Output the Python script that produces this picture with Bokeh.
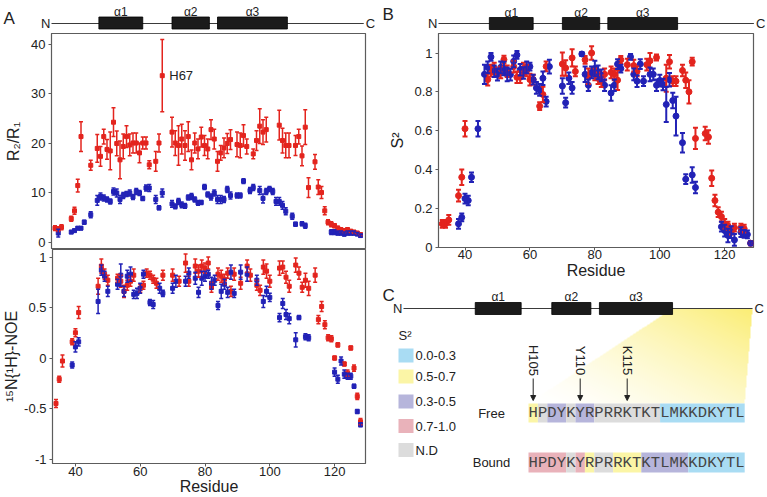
import numpy as np
from bokeh.plotting import figure
from bokeh.layouts import row, column
from bokeh.models import (Range1d, FixedTicker, Whisker, TeeHead,
                          ColumnDataSource, Arrow, NormalHead)
from bokeh.embed import file_html
from bokeh.resources import INLINE
from bokeh.core.properties import value

SANS = "Liberation Sans"
MONO = "Liberation Mono"
RED = "#e3241e"     # bound
BLUE = "#2222b6"    # free
INK = "#222222"
EDGE = "#5c5c5c"

# ---------------------------------------------------------------- data
HELICES = ["α1", "α2", "α3"]
HELIX_START = [47.5, 70.0, 84.0]
HELIX_END = [61.0, 81.5, 105.5]
C_TERMINUS = 129

# R2/R1
BOUND_R2R1_RES = [34, 35, 36, 39, 40, 41, 42, 45,
                  47, 48, 49, 50, 51, 52, 53, 54, 55, 56, 57, 58, 59, 60, 61, 62, 63,
                  65, 66, 67,
                  70, 71, 72, 73, 74, 75, 76, 77, 78, 79, 80, 81, 82, 83, 84, 85, 86, 87, 88,
                  90, 91, 92, 93,
                  95, 96, 97, 98, 99,
                  103, 104, 105, 106,
                  108, 109, 110, 111, 112,
                  114, 115, 116, 117, 118, 119, 120, 121, 122, 123, 124, 125, 126, 127, 128]
BOUND_R2R1 = [2.8, 2.6, 3.0, 4.7, 6.3, 11.4, 21.3, 15.5,
              18.9, 17.3, 21.3, 18.7, 18.4, 24.2, 19.9, 16.6, 19.3, 21.3, 19.6, 20.0, 20.0, 18.0, 20.0, 20.0, 15.6,
              16.3, 20.0, 33.6,
              22.2, 20.0, 19.5, 20.8, 19.5, 21.3, 16.6, 20.0, 18.8, 21.2, 19.5, 18.8, 22.7, 20.8, 16.3, 18.0, 19.0, 19.9, 20.7,
              19.7, 19.5, 21.5, 19.3,
              17.8, 20.5, 23.4, 22.2, 22.7,
              23.6, 20.5, 19.5, 19.5,
              19.5, 21.3, 17.4, 23.2, 11.0,
              16.2, 11.1, 10.0, 6.3, 4.0, 3.6, 3.3, 2.8, 2.5, 2.3, 2.5, 2.2, 2.0, 1.8, 1.5]
BOUND_R2R1_ERR = [0.5, 0.5, 0.5, 0.5, 0.7, 1.3, 3.0, 1.0,
                  2.8, 2.0, 1.5, 2.0, 3.8, 2.9, 2.5, 3.8, 2.5, 2.2, 2.2, 2.0, 2.0, 2.0, 1.2, 1.2, 0.8,
                  2.0, 1.8, 7.3,
                  3.0, 2.5, 4.0, 3.0, 3.0, 3.0, 2.0, 2.0, 2.0, 2.0, 2.0, 2.0, 2.0, 2.0, 2.0, 1.5, 2.0, 2.0, 2.0,
                  2.5, 2.5, 2.2, 1.5,
                  1.0, 2.0, 3.5, 2.5, 2.5,
                  3.0, 2.5, 2.5, 2.5,
                  2.0, 1.5, 2.0, 3.5, 2.0,
                  1.5, 1.5, 1.2, 0.8, 0.5, 0.5, 0.4, 0.4, 0.4, 0.4, 0.4, 0.3, 0.3, 0.3, 0.3]

FREE_R2R1_RES = [35, 39, 40, 41, 42, 43, 45,
                 47, 48, 49, 50, 51, 52, 53, 54, 55, 56, 57, 58, 59, 60, 61, 62, 63,
                 65, 66, 67,
                 70, 71, 72, 73, 74, 75, 76, 77, 78, 79, 80, 81, 82, 83, 84, 85, 86, 87, 88,
                 90, 91, 92, 94, 95,
                 97, 98, 99, 100, 101, 102, 103, 104, 105,
                 107, 108, 110, 111,
                 119, 120, 121, 122, 123, 124, 125, 126, 127, 128]
FREE_R2R1 = [1.8, 2.0, 2.3, 2.8, 2.8, 4.0, 5.5,
             8.4, 9.2, 8.9, 8.6, 8.2, 10.2, 9.9, 8.6, 9.4, 9.7, 9.9, 9.1, 10.2, 9.9, 8.8, 10.9, 10.9,
             8.6, 6.9, 9.9,
             7.7, 7.2, 8.2, 7.5, 7.3, 9.0, 9.2, 8.6, 7.9, 8.0, 11.1, 9.6, 9.1, 9.9, 8.6, 8.6, 8.6, 10.6, 9.4,
             9.4, 9.4, 12.3, 10.4, 11.0,
             10.4, 8.8, 10.2, 10.7, 10.2, 8.2, 8.2, 7.4, 6.2,
             5.2, 3.6, 3.7, 3.3,
             2.0, 2.0, 1.8, 1.8, 1.6, 1.8, 1.8, 1.8, 1.6, 1.3]
FREE_R2R1_ERR = [0.8, 0.3, 0.3, 0.3, 0.3, 0.4, 0.6,
                 1.0, 0.7, 0.6, 0.5, 0.5, 0.7, 0.8, 0.8, 0.6, 0.5, 0.6, 0.5, 0.6, 0.5, 0.4, 0.6, 0.7,
                 0.8, 0.4, 0.8,
                 0.7, 0.5, 0.6, 0.6, 0.5, 0.5, 0.6, 0.5, 0.5, 0.4, 0.5, 0.5, 0.6, 0.6, 0.8, 0.8, 0.6, 0.6, 0.7,
                 0.5, 0.5, 0.5, 0.6, 0.6,
                 0.8, 0.9, 0.6, 0.5, 0.6, 0.8, 0.8, 0.8, 0.7,
                 0.6, 0.4, 0.4, 0.5,
                 0.5, 0.5, 0.4, 0.4, 0.4, 0.4, 0.4, 0.4, 0.3, 0.3]

# heteronuclear NOE
BOUND_NOE_RES = [34, 35, 36, 39, 40, 41, 47, 48, 49, 50,
                 53, 54, 55, 56, 57, 58, 60, 61, 62, 63, 64, 65, 67, 70, 72, 74, 75,
                 77, 78, 79, 80, 81, 82, 84, 85, 86, 87, 88, 89, 91, 93, 94,
                 96, 97, 98, 99, 100, 103, 104, 105, 106, 108, 109, 110, 111, 112,
                 114, 115, 116, 117, 118, 119, 120, 121, 123, 124, 125, 126, 127, 128]
BOUND_NOE = [-0.45, -0.21, -0.03, 0.16, 0.25, 0.45, 0.71, 0.91, 0.83, 0.77,
             0.79, 0.76, 0.66, 0.72, 0.76, 0.82, 0.69, 0.72, 0.84, 0.82, 0.78, 0.74, 0.82, 0.82, 0.76, 0.94, 0.76,
             0.91, 0.86, 0.91, 0.89, 0.94, 0.70, 0.83, 0.81, 0.78, 0.84, 0.66, 0.83, 0.74, 0.91, 0.82,
             0.72, 0.67, 0.90, 0.86, 0.76, 0.89, 0.90, 0.80, 0.71, 0.92, 0.84, 0.70, 0.77, 0.69,
             0.82, 0.38, 0.51, 0.33, 0.20, 0.19, 0.00, 0.13, -0.06, -0.15, 0.10, -0.10, -0.38, -0.63]
BOUND_NOE_ERR = [0.04, 0.03, 0.06, 0.03, 0.04, 0.06, 0.08, 0.07, 0.05, 0.05,
                 0.04, 0.06, 0.06, 0.05, 0.05, 0.06, 0.04, 0.04, 0.04, 0.04, 0.04, 0.05, 0.05, 0.06, 0.05, 0.09, 0.05,
                 0.07, 0.06, 0.06, 0.05, 0.06, 0.05, 0.06, 0.06, 0.05, 0.05, 0.05, 0.06, 0.06, 0.06, 0.06,
                 0.05, 0.05, 0.07, 0.07, 0.06, 0.07, 0.06, 0.06, 0.06, 0.07, 0.06, 0.05, 0.07, 0.07,
                 0.07, 0.04, 0.05, 0.04, 0.03, 0.03, 0.02, 0.02, 0.02, 0.03, 0.02, 0.03, 0.03, 0.03]

FREE_NOE_RES = [39, 40, 41, 47, 48, 49, 50,
                53, 54, 55, 56, 57, 58, 59, 60, 61, 63, 64, 66, 67, 70, 71, 74, 75,
                77, 78, 79, 80, 81, 82, 83, 84, 85, 86, 87, 88, 89, 91, 93, 96,
                98, 99, 100, 103, 104, 105, 106, 108, 109, 111, 112,
                120, 121, 122, 123, 124, 125, 126, 127, 128]
FREE_NOE = [-0.07, 0.11, 0.16, 0.56, 0.87, 0.81, 0.66,
            0.73, 0.82, 0.66, 0.81, 0.83, 0.63, 0.64, 0.69, 0.83, 0.55, 0.53, 0.69, 0.64, 0.69, 0.76, 0.76, 0.84,
            0.79, 0.65, 0.79, 0.81, 0.83, 0.74, 0.77, 0.52, 0.66, 0.73, 0.65, 0.85, 0.64, 0.85, 0.83, 0.77,
            0.56, 0.66, 0.60, 0.40, 0.54, 0.43, 0.39, 0.18, 0.40, 0.21, 0.20,
            -0.14, -0.21, -0.03, -0.16, -0.18, -0.18, -0.28, -0.53, -0.66]
FREE_NOE_ERR = [0.03, 0.05, 0.04, 0.12, 0.05, 0.05, 0.05,
                0.05, 0.11, 0.05, 0.06, 0.07, 0.04, 0.05, 0.05, 0.04, 0.03, 0.04, 0.05, 0.03, 0.05, 0.06, 0.05, 0.05,
                0.06, 0.05, 0.07, 0.05, 0.04, 0.06, 0.05, 0.04, 0.07, 0.05, 0.05, 0.07, 0.04, 0.07, 0.07, 0.05,
                0.06, 0.05, 0.04, 0.04, 0.05, 0.05, 0.05, 0.07, 0.02, 0.03, 0.03,
                0.04, 0.04, 0.04, 0.04, 0.03, 0.03, 0.02, 0.02, 0.02]

# order parameter S2
BOUND_S2_RES = [33, 34, 35, 38, 39, 40, 47, 48, 49, 51, 52, 53,
                55, 56, 57, 58, 59, 60, 61, 63, 64, 65, 70, 71, 73, 74,
                77, 78, 79, 80, 81, 82, 83, 85, 86, 87, 88, 90, 92, 93, 96, 97, 99,
                102, 103, 104, 105, 107, 108, 109, 110, 111,
                114, 115, 116, 117, 118, 119, 120, 121, 122, 123, 125, 126, 128]
BOUND_S2 = [0.12, 0.12, 0.14, 0.265, 0.36, 0.61, 0.863, 0.909, 0.92, 0.90, 0.966, 0.906,
            0.93, 0.875, 0.875, 0.92, 0.91, 0.863, 0.863, 0.726, 0.786, 0.931, 0.943, 0.923, 0.975, 0.905,
            0.965, 0.88, 1.0, 0.89, 0.87, 0.855, 0.89, 0.90, 0.89, 0.86, 0.965, 0.94, 0.935, 0.905, 0.94, 0.96, 0.977,
            0.87, 0.955, 0.855, 0.855, 0.91, 0.86, 0.80, 0.955, 0.56,
            0.585, 0.567, 0.355, 0.24, 0.18, 0.157, 0.12, 0.11, 0.085, 0.10, 0.10, 0.095, 0.02]
BOUND_S2_ERR = [0.02, 0.02, 0.025, 0.03, 0.04, 0.04, 0.03, 0.03, 0.03, 0.03, 0.02, 0.03,
                0.03, 0.03, 0.03, 0.03, 0.03, 0.03, 0.025, 0.02, 0.04, 0.025, 0.06, 0.04, 0.045, 0.025,
                0.02, 0.04, 0.035, 0.03, 0.03, 0.03, 0.03, 0.03, 0.03, 0.05, 0.02, 0.03, 0.03, 0.025, 0.03, 0.04, 0.015,
                0.07, 0.035, 0.025, 0.025, 0.03, 0.04, 0.06, 0.02, 0.055,
                0.035, 0.035, 0.04, 0.03, 0.025, 0.025, 0.025, 0.02, 0.02, 0.02, 0.02, 0.02, 0.01]

FREE_S2_RES = [38, 39, 40, 41, 42, 44,
               46, 47, 48, 49, 50, 51, 52, 53, 54, 55, 56, 57, 58, 59, 60, 61, 62, 63, 64, 65, 66,
               70, 71, 72, 73, 76, 77, 78, 79, 80, 81, 82, 83, 85, 86, 87, 88,
               91, 92, 93, 94, 95, 97, 98, 99, 100, 101, 102, 103, 104, 105,
               107, 108, 110, 111, 119, 120, 121, 122, 123, 125, 126, 127, 128]
FREE_S2 = [0.12, 0.153, 0.25, 0.24, 0.36, 0.61,
           0.89, 0.926, 0.98, 0.906, 0.889, 0.926, 0.92, 0.89, 0.889, 0.957, 0.99, 0.914, 0.897, 0.926, 0.93,
           0.863, 0.82, 0.81, 0.87, 0.75, 0.93,
           0.83, 0.744, 0.87, 0.82, 0.995, 0.89, 0.834, 0.90, 0.92, 0.90, 0.885, 0.834, 0.794, 0.834, 0.943, 0.92,
           0.98, 0.89, 0.855, 0.943, 0.855, 0.89, 0.89, 0.834, 0.858, 0.838, 0.735, 0.862, 0.755, 0.675,
           0.538, 0.35, 0.372, 0.307, 0.105, 0.085, 0.06, 0.077, 0.037, 0.077, 0.068, 0.065, 0.02]
FREE_S2_ERR = [0.025, 0.02, 0.025, 0.025, 0.025, 0.04,
               0.05, 0.03, 0.02, 0.03, 0.03, 0.03, 0.035, 0.035, 0.03, 0.03, 0.02, 0.03, 0.03, 0.03, 0.02,
               0.025, 0.03, 0.03, 0.035, 0.025, 0.035,
               0.04, 0.025, 0.03, 0.03, 0.01, 0.04, 0.03, 0.03, 0.04, 0.035, 0.03, 0.03, 0.04, 0.03, 0.025, 0.02,
               0.015, 0.03, 0.03, 0.025, 0.025, 0.035, 0.03, 0.03, 0.03, 0.03, 0.09, 0.035, 0.04, 0.1,
               0.05, 0.025, 0.04, 0.03, 0.025, 0.03, 0.035, 0.03, 0.03, 0.025, 0.02, 0.02, 0.01]

LABELLED_RESIDUE = 67

# C-terminal tail, coloured by S2 class
SEQUENCE = "HPDYKYRPRRKTKTLMKKDKYTL"
SEQ_START = 105
MARKED = [105, 110, 115]
FREE_CLASS = (["0.5-0.7", "N.D", "0.3-0.5", "0.3-0.5", "N.D", "0.3-0.5", "0.3-0.5"]
              + ["N.D"] * 7 + ["0.0-0.3"] * 9)
BOUND_CLASS = (["0.7-1.0"] * 4 + ["N.D", "0.7-1.0", "0.5-0.7", "N.D", "N.D"]
               + ["0.5-0.7"] * 3 + ["0.3-0.5"] * 5 + ["0.0-0.3"] * 6)
S2_CLASSES = ["0.0-0.3", "0.5-0.7", "0.3-0.5", "0.7-1.0", "N.D"]
S2_COLORS = ["#a9dcf3", "#fbf5a6", "#b6b5db", "#e9b2ba", "#dcdcdc"]
CLASS_COLOR = dict(zip(S2_CLASSES, S2_COLORS))


# ---------------------------------------------------------------- geometry helpers
def lin(anchor_px, anchor_val, px_per_unit, downward=False):
    sign = -1.0 if downward else 1.0
    return lambda px: anchor_val + sign * (px - anchor_px) / px_per_unit


A_X = lin(74, 40, 3.25)
A_TOP_Y = lin(241.5, 0, 4.95, True)
A_BOT_Y = lin(357.5, 0, 101, True)
B_X = lin(464.5, 40, 3.246)
B_Y = lin(247.6, 0, 195, True)
C_SCALE = 3.402
C_X = lin(752, C_TERMINUS, C_SCALE)


def C_PX(res):
    return 752 + C_SCALE * (res - C_TERMINUS)


def canvas(w, h, xr, yr, **kw):
    p = figure(width=w, height=h, x_range=Range1d(*xr), y_range=Range1d(*yr),
               x_axis_location=None, y_axis_location=None, toolbar_location=None,
               output_backend="svg", min_border=0, outline_line_color=None,
               frame_align=False, **kw)
    p.grid.visible = False
    return p


def frame_plot(w, h, xr, yr, left, right, top, bottom, xaxis):
    p = figure(width=w, height=h, x_range=Range1d(*xr), y_range=Range1d(*yr),
               x_axis_location="below" if xaxis else None, y_axis_location="left",
               toolbar_location=None, output_backend="svg", frame_align=False,
               min_border_left=left, min_border_right=right,
               min_border_top=top, min_border_bottom=bottom)
    p.outline_line_color = EDGE
    p.outline_line_width = 1.2
    p.grid.visible = False
    for ax in p.axis:
        ax.axis_line_color = EDGE
        ax.major_tick_line_color = EDGE
        ax.minor_tick_line_color = None
        ax.major_tick_in = 0
        ax.major_tick_out = 3
        ax.major_label_standoff = 3
        ax.major_label_text_font = SANS
        ax.major_label_text_font_size = "13px"
        ax.major_label_text_color = INK
        ax.axis_label_text_font = SANS
        ax.axis_label_text_font_size = "16px"
        ax.axis_label_text_font_style = "normal"
        ax.axis_label_text_color = INK
    return p


def set_ticks(axis, ticks, labels):
    axis.ticker = FixedTicker(ticks=ticks)
    axis.major_label_overrides = {t: s for t, s in zip(ticks, labels)}


def series(p, res, val, err, color, marker, size, lw, head):
    assert len(res) == len(val) == len(err)
    src = ColumnDataSource(dict(x=res, y=val,
                                lo=[v - e for v, e in zip(val, err)],
                                hi=[v + e for v, e in zip(val, err)]))
    p.add_layout(Whisker(source=src, base="x", lower="lo", upper="hi",
                         line_color=color, line_width=lw, level="glyph",
                         upper_head=TeeHead(size=head, line_color=color, line_width=lw),
                         lower_head=TeeHead(size=head, line_color=color, line_width=lw)))
    p.scatter("x", "y", source=src, marker=marker, size=size,
              fill_color=color, line_color=color)


def text_kw(size, align="center", baseline="middle", font=SANS, color=INK):
    return dict(text_font=value(font), text_font_size=size, text_align=align,
                text_baseline=baseline, text_color=color)


def topology(p, x_start, y_line, box_top, box_bottom, label_y, range_name=None):
    kw = {"x_range_name": range_name} if range_name else {}
    p.segment(x0=[x_start], y0=[-y_line], x1=[C_TERMINUS], y1=[-y_line],
              line_color="#3a3a3a", line_width=1, **kw)
    p.quad(left=HELIX_START, right=HELIX_END, top=[-box_top] * 3, bottom=[-box_bottom] * 3,
           fill_color="#1b1b1b", line_color="#000000", line_width=0.8, **kw)
    p.text(x=[(s + e) / 2 for s, e in zip(HELIX_START, HELIX_END)], y=[-label_y] * 3,
           text=HELICES, **text_kw("12px"), **kw)
    p.text(x=[x_start], y=[-y_line], text=["N"], x_offset=-1, **text_kw("13px", "right"), **kw)
    p.text(x=[C_TERMINUS], y=[-y_line], text=["C"], x_offset=2, **text_kw("13px", "left"), **kw)


# ---------------------------------------------------------------- panel A
topo_a = canvas(380, 33, (A_X(0), A_X(380)), (-33, 0))
topology(topo_a, A_X(51), 23, 16.5, 28.5, 11)
topo_a.text(x=[A_X(3)], y=[-18], text=["A"], **text_kw("17px", "left", "alphabetic"))

a_xr = (A_X(51), A_X(365))
r2r1 = frame_plot(380, 216, a_xr, (A_TOP_Y(249), A_TOP_Y(33)), 51, 15, 0, 0, False)
set_ticks(r2r1.yaxis[0], [0, 10, 20, 30, 40], ["0", "10", "20", "30", "40"])
r2r1.yaxis[0].axis_label = "R₂/R₁"
r2r1.yaxis[0].axis_label_standoff = 6
series(r2r1, BOUND_R2R1_RES, BOUND_R2R1, BOUND_R2R1_ERR, RED, "square", 4, 1.5, 4)
series(r2r1, FREE_R2R1_RES, FREE_R2R1, FREE_R2R1_ERR, BLUE, "square", 4, 1.5, 4)
k = BOUND_R2R1_RES.index(LABELLED_RESIDUE)
r2r1.text(x=[LABELLED_RESIDUE], y=[BOUND_R2R1[k]], text=[f"H{LABELLED_RESIDUE}"], x_offset=7,
          **text_kw("13px", "left"))

noe = frame_plot(380, 248, a_xr, (A_BOT_Y(463), A_BOT_Y(249)), 51, 15, 0, 34, True)
set_ticks(noe.yaxis[0], [-1, -0.5, 0, 0.5, 1], ["-1", "-0.5", "0", "0.5", "1"])
set_ticks(noe.xaxis[0], [40, 60, 80, 100, 120], ["40", "60", "80", "100", "120"])
noe.xaxis[0].major_label_standoff = 0
noe.xaxis[0].axis_label = "Residue"
noe.xaxis[0].axis_label_standoff = -1
noe.yaxis[0].axis_label = "¹⁵N{¹H}-NOE"
noe.yaxis[0].axis_label_standoff = 1
series(noe, BOUND_NOE_RES, BOUND_NOE, BOUND_NOE_ERR, RED, "square", 4, 1.5, 4)
series(noe, FREE_NOE_RES, FREE_NOE, FREE_NOE_ERR, BLUE, "square", 4, 1.5, 4)

# ---------------------------------------------------------------- panel B
topo_b = canvas(387, 33, (B_X(380), B_X(767)), (-33, 0))
topology(topo_b, B_X(438), 23, 17, 29, 12)
topo_b.text(x=[B_X(382)], y=[-14], text=["B"], **text_kw("17px", "left", "alphabetic"))

s2 = frame_plot(387, 248, (B_X(438), B_X(753)), (B_Y(248), B_Y(33)), 58, 14, 0, 33, True)
set_ticks(s2.yaxis[0], [0, 0.2, 0.4, 0.6, 0.8, 1], ["0", "0.2", "0.4", "0.6", "0.8", "1"])
set_ticks(s2.xaxis[0], [40, 60, 80, 100, 120], ["40", "60", "80", "100", "120"])
s2.xaxis[0].major_label_standoff = -1
s2.xaxis[0].axis_label = "Residue"
s2.xaxis[0].axis_label_standoff = 0
s2.yaxis[0].axis_label = "S²"
s2.yaxis[0].axis_label_standoff = 5
series(s2, BOUND_S2_RES, BOUND_S2, BOUND_S2_ERR, RED, "circle", 6, 2, 5)
series(s2, FREE_S2_RES, FREE_S2, FREE_S2_ERR, BLUE, "circle", 6, 2, 5)

# ---------------------------------------------------------------- panel C
pc = canvas(387, 216, (380, 767), (-497, -281),
            extra_x_ranges={"res": Range1d(C_X(380), C_X(767))})
pc.text(x=[382], y=[-295], text=["C"], **text_kw("17px", "left", "alphabetic"))

SEQ_X0, CELL_W = 528.0, 9.4
FREE_ROW = (403.0, 422.0)
BOUND_ROW = (452.0, 472.0)
LINE_Y = 308.0
n_cells = len(SEQUENCE)

# yellow fan linking the C-terminal tail of the cartoon to the sequence
top_l, top_r = C_PX(HELIX_END[-1]), C_PX(C_TERMINUS)
bot_l, bot_r = SEQ_X0, SEQ_X0 + n_cells * CELL_W
fx0, fx1 = min(top_l, bot_l), max(top_r, bot_r)
fy0, fy1 = LINE_Y, FREE_ROW[0]
W, H = int(round(fx1 - fx0)), int(round(fy1 - fy0))
img = np.zeros((H, W), dtype=np.uint32)
rgba = img.view(dtype=np.uint8).reshape((H, W, 4))
wy = fy1 - (np.arange(H) + 0.5) * (fy1 - fy0) / H
wx = fx0 + (np.arange(W) + 0.5) * (fx1 - fx0) / W
f = (wy - fy0) / (fy1 - fy0)
xl = top_l + (bot_l - top_l) * f
xr = top_r + (bot_r - top_r) * f
WX, F = np.meshgrid(wx, f)
XL = np.meshgrid(wx, xl)[1]
XR = np.meshgrid(wx, xr)[1]
inside = (WX >= XL) & (WX <= XR)
t = 0.55 * (fx1 - WX) / (fx1 - fx0) + 0.45 * F
alpha = np.clip(0.9 * (1 - t) ** 1.5, 0, 1) * inside
rgba[..., 0] = 250
rgba[..., 1] = 235
rgba[..., 2] = 100
rgba[..., 3] = (alpha * 255).astype(np.uint8)
pc.image_rgba(image=[img], x=fx0, y=-fy1, dw=fx1 - fx0, dh=fy1 - fy0)

topology(pc, C_X(403), LINE_Y, 302, 314, 296.5, range_name="res")

# legend
LEGEND_Y = [355, 376, 401, 425.5, 449.5]
pc.text(x=[398], y=[-335], text=["S²"], **text_kw("13px", "left"))
pc.quad(left=[398] * 5, right=[413] * 5, top=[-(y - 7) for y in LEGEND_Y],
        bottom=[-(y + 7) for y in LEGEND_Y], fill_color=S2_COLORS, line_color=None)
pc.text(x=[415] * 5, y=[-y for y in LEGEND_Y], text=S2_CLASSES, **text_kw("13px", "left"))


def runs(classes):
    out, start = [], 0
    for i in range(1, len(classes) + 1):
        if i == len(classes) or classes[i] != classes[start]:
            out.append((start, i, classes[start]))
            start = i
    return out


for classes, (ytop, ybot), name in ((FREE_CLASS, FREE_ROW, "Free"),
                                    (BOUND_CLASS, BOUND_ROW, "Bound")):
    rr = runs(classes)
    pc.quad(left=[SEQ_X0 + a * CELL_W for a, b, c in rr],
            right=[SEQ_X0 + b * CELL_W for a, b, c in rr],
            top=[-ytop] * len(rr), bottom=[-ybot] * len(rr),
            fill_color=[CLASS_COLOR[c] for a, b, c in rr], line_color=None)
    ymid = -(ytop + ybot) / 2
    pc.text(x=[SEQ_X0 + (i + 0.5) * CELL_W for i in range(n_cells)], y=[ymid] * n_cells,
            text=list(SEQUENCE), **text_kw("15.5px", font=MONO, color="#444444"))
    pc.text(x=[491], y=[ymid], text=[name], **text_kw("13px"))

for r in MARKED:
    i = r - SEQ_START
    cx = SEQ_X0 + (i + 0.5) * CELL_W
    pc.text(x=[cx], y=[-360], text=[f"{SEQUENCE[i]}{r}"], angle=-np.pi / 2, **text_kw("13px"))
    pc.add_layout(Arrow(x_start=cx, y_start=-378, x_end=cx, y_end=-400,
                        line_color=INK, line_width=1,
                        end=NormalHead(size=5, fill_color=INK, line_color=INK)))

layout = row(column(topo_a, r2r1, noe), column(topo_b, s2, pc))
open("out.html", "w").write(file_html(layout, INLINE))
